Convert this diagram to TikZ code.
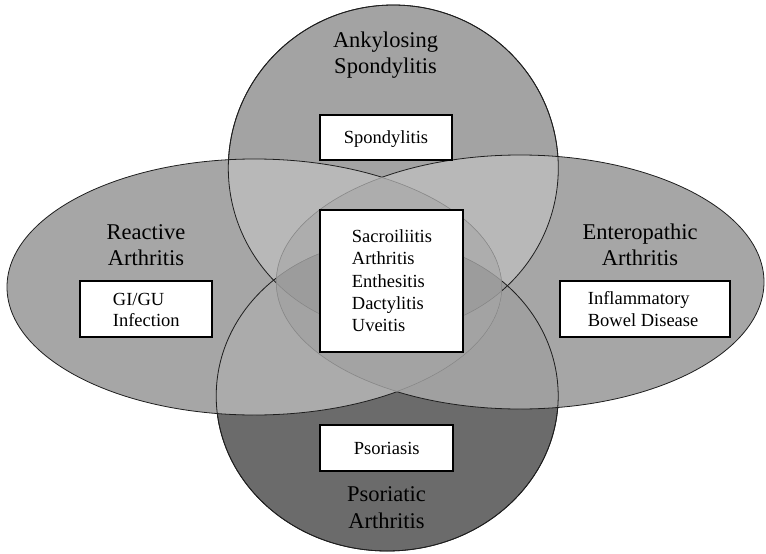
\documentclass[tikz,border=0pt]{standalone}
\usepackage{fontspec}
\setmainfont{Liberation Serif}
\definecolor{cT}{HTML}{A3A3A3}
\definecolor{cL}{HTML}{A6A6A6}
\definecolor{cR}{HTML}{A6A6A6}
\definecolor{cB}{HTML}{6B6B6B}
\definecolor{cTL}{HTML}{B8B8B8}
\definecolor{cTR}{HTML}{B8B8B8}
\definecolor{cTB}{HTML}{9C9C9C}
\definecolor{cLR}{HTML}{A8A8A8}
\definecolor{cLB}{HTML}{ABABAB}
\definecolor{cRB}{HTML}{A0A0A0}
\definecolor{cTLR}{HTML}{ADADAD}
\definecolor{cTLB}{HTML}{9C9C9C}
\definecolor{cTRB}{HTML}{9C9C9C}
\definecolor{cLRB}{HTML}{A3A3A3}
\definecolor{cAll}{HTML}{9C9C9C}
\definecolor{lineDark}{HTML}{1E1E1E}
\definecolor{lineLight}{HTML}{858585}
\tikzset{
  dk/.style={draw=lineDark, line width=0.8pt},
  lt/.style={draw=lineLight, line width=0.5pt},
  box/.style={draw=black, fill=white, line width=2pt, inner sep=0pt},
  big/.style={font=\fontsize{22.5}{27}\selectfont, inner sep=0pt},
  sm/.style={font=\fontsize{18.5}{22}\selectfont, inner sep=0pt}
}
\begin{document}
\begin{tikzpicture}[x=1pt,y=-1pt]
\useasboundingbox (0,0) rectangle (766,554);
\def\pT{(393.3,168) ellipse [x radius=165pt, y radius=163pt]}
\def\pB{(387.2,396) ellipse [x radius=171pt, y radius=155pt]}
\def\pL{(254.5,287) ellipse [x radius=247.5pt, y radius=128pt]}
\def\pR{(520,282) ellipse [x radius=244pt, y radius=127pt]}
\def\rect{(-20,-20) -- (790,-20) -- (790,580) -- (-20,580) -- cycle}
% single regions
\fill[cT] \pT; \fill[cL] \pL; \fill[cR] \pR; \fill[cB] \pB;
% pairs
\begin{scope}\clip \pT; \fill[cTL] \pL; \end{scope}
\begin{scope}\clip \pT; \fill[cTR] \pR; \end{scope}
\begin{scope}\clip \pT; \fill[cTB] \pB; \end{scope}
\begin{scope}\clip \pL; \fill[cLR] \pR; \end{scope}
\begin{scope}\clip \pL; \fill[cLB] \pB; \end{scope}
\begin{scope}\clip \pR; \fill[cRB] \pB; \end{scope}
% triples
\begin{scope}\clip \pT; \clip \pL; \fill[cTLR] \pR; \end{scope}
\begin{scope}\clip \pT; \clip \pL; \fill[cTLB] \pB; \end{scope}
\begin{scope}\clip \pT; \clip \pR; \fill[cTRB] \pB; \end{scope}
\begin{scope}\clip \pL; \clip \pR; \fill[cLRB] \pB; \end{scope}
% all four
\begin{scope}\clip \pT; \clip \pL; \clip \pR; \fill[cAll] \pB; \end{scope}
% dark outlines outside the left/right overlap
\begin{scope}[even odd rule]\clip \rect \pR; \draw[dk] \pL; \draw[dk] \pT; \draw[dk] \pB; \end{scope}
\begin{scope}[even odd rule]\clip \rect \pL; \draw[dk] \pR; \draw[dk] \pT; \draw[dk] \pB; \end{scope}
% light outlines inside the left/right overlap
\begin{scope}\clip \pL; \clip \pR;
  \draw[lt] \pT; \draw[lt] \pB;
  \draw[lt, line width=1pt] \pL; \draw[lt, line width=1pt] \pR;
\end{scope}
% boxes
\node[box, minimum width=132pt, minimum height=45pt] (bspond) at (386,137.5) {};
\node[box, minimum width=143pt, minimum height=142.3pt] (bcentre) at (391.8,281.2) {};
\node[box, minimum width=131.4pt, minimum height=55.7pt] (bgigu) at (146,308.9) {};
\node[box, minimum width=169.9pt, minimum height=55.3pt] (bibd) at (645.4,308.9) {};
\node[box, minimum width=132.7pt, minimum height=46pt] (bpso) at (386.7,448.3) {};
% big labels
\node[big, anchor=base] (ank1) at (385.5,47.7) {Ankylosing};
\node[big, anchor=base] (ank2) at (385.5,73.5) {Spondylitis};
\node[big, anchor=base] (rea1) at (146,239.3) {Reactive};
\node[big, anchor=base] (rea2) at (146,265.7) {Arthritis};
\node[big, anchor=base] (ent1) at (640,239.5) {Enteropathic};
\node[big, anchor=base] (ent2) at (640,265.5) {Arthritis};
\node[big, anchor=base] (pso1) at (386.4,501.7) {Psoriatic};
\node[big, anchor=base] (pso2) at (386.4,528.3) {Arthritis};
% box texts
\node[sm, anchor=base] (tspond) at (386,143.4) {Spondylitis};
\node[sm, anchor=base west] (tc1) at (351.7,242.4) {Sacroiliitis};
\node[sm, anchor=base west] (tc2) at (351.7,264.7) {Arthritis};
\node[sm, anchor=base west] (tc3) at (351.7,287.1) {Enthesitis};
\node[sm, anchor=base west] (tc4) at (351.7,309.5) {Dactylitis};
\node[sm, anchor=base west] (tc5) at (351.7,331.9) {Uveitis};
\node[sm, anchor=base west] (tg1) at (112.7,305) {GI/GU};
\node[sm, anchor=base west] (tg2) at (112.7,326.7) {Infection};
\node[sm, anchor=base west] (ti1) at (587.7,304.6) {Inflammatory};
\node[sm, anchor=base west] (ti2) at (587.7,326.9) {Bowel Disease};
\node[sm, anchor=base] (tpso) at (386.7,454) {Psoriasis};
\end{tikzpicture}
\end{document}
